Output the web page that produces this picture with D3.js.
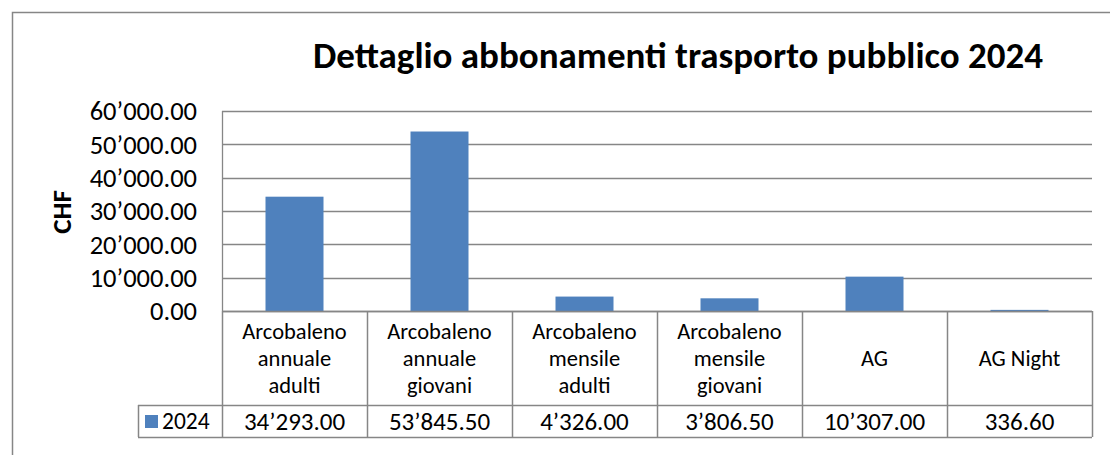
<!DOCTYPE html>
<html>
<head>
<meta charset="utf-8">
<script src="https://cdn.jsdelivr.net/npm/d3@7"></script>
<style>
  body { margin: 0; background: #fff; }
  svg text { font-family: Carlito, Lato, "Open Sans", sans-serif; fill: #000; }
</style>
</head>
<body>
<svg id="chart" width="1110" height="455"></svg>
<script>
// data
const categories = [
    ["Arcobaleno", "annuale", "adulti"],
    ["Arcobaleno", "annuale", "giovani"],
    ["Arcobaleno", "mensile", "adulti"],
    ["Arcobaleno", "mensile", "giovani"],
    ["AG"],
    ["AG Night"]
];
const values2024 = [34293.00, 53845.50, 4326.00, 3806.50, 10307.00, 336.60];
const seriesName = "2024";
const yTicks = [0, 10000, 20000, 30000, 40000, 50000, 60000];

const svg = d3.select("#chart");
const grid = "#868686";
const barColor = "#4F81BD";

// plot area
const plotL = 222, plotR = 1092, plotT = 111, plotB = 311;
const rowLabelBottom = 405, rowValueBottom = 437, legendLeft = 138;
const tableFont = 25;
const catFont = 22.5;

// outer chart frame (cropped on the right/bottom)
svg.append("path")
    .attr("d", "M12.5,456 V12.5 H1112")
    .attr("fill", "none")
    .attr("stroke", grid)
    .attr("stroke-width", 1.5);

const x = d3.scaleBand()
    .domain(d3.range(categories.length))
    .range([plotL, plotR])
    .paddingInner(0.6)
    .paddingOuter(0.3);
const xCol = d3.scaleBand()
    .domain(d3.range(categories.length))
    .range([plotL, plotR]);
const y = d3.scaleLinear().domain([0, 60000]).range([plotB, plotT]);

const fmt = v => d3.format(",.2f")(v).replace(/,/g, "\u2019");

// gridlines
svg.append("g").selectAll("line")
    .data(yTicks)
    .join("line")
    .attr("x1", plotL).attr("x2", plotR)
    .attr("y1", d => Math.round(y(d)) + 0.5)
    .attr("y2", d => Math.round(y(d)) + 0.5)
    .attr("stroke", grid)
    .attr("stroke-width", 1.3);

// left axis line
svg.append("line")
    .attr("x1", plotL + 0.5).attr("x2", plotL + 0.5)
    .attr("y1", plotT).attr("y2", plotB)
    .attr("stroke", grid).attr("stroke-width", 1.3);

// tick labels
svg.append("g").selectAll("text")
    .data(yTicks)
    .join("text")
    .attr("x", 197)
    .attr("y", d => y(d))
    .attr("dy", "0.35em")
    .attr("text-anchor", "end")
    .attr("font-size", 26.5)
    .text(d => fmt(d));

// bars
svg.append("g").selectAll("rect")
    .data(values2024)
    .join("rect")
    .attr("x", (d, i) => x(i))
    .attr("width", x.bandwidth())
    .attr("y", d => y(d))
    .attr("height", d => plotB - y(d))
    .attr("fill", barColor);

// data table
const tbl = svg.append("g")
    .attr("fill", "none")
    .attr("stroke", grid)
    .attr("stroke-width", 1.5);
tbl.append("line")
    .attr("x1", plotL).attr("x2", plotR)
    .attr("y1", plotB + 0.5).attr("y2", plotB + 0.5);
tbl.append("line")
    .attr("x1", legendLeft).attr("x2", plotR)
    .attr("y1", rowLabelBottom + 0.5).attr("y2", rowLabelBottom + 0.5);
tbl.append("line")
    .attr("x1", legendLeft).attr("x2", plotR)
    .attr("y1", rowValueBottom + 0.5).attr("y2", rowValueBottom + 0.5);
tbl.append("line")
    .attr("x1", legendLeft + 0.5).attr("x2", legendLeft + 0.5)
    .attr("y1", rowLabelBottom).attr("y2", rowValueBottom);
tbl.selectAll(".col")
    .data(d3.range(categories.length + 1))
    .join("line")
    .attr("class", "col")
    .attr("x1", i => Math.round(i < categories.length ? xCol(i) : plotR) + 0.5)
    .attr("x2", i => Math.round(i < categories.length ? xCol(i) : plotR) + 0.5)
    .attr("y1", plotB)
    .attr("y2", rowValueBottom);

// category labels
const lh = 27;
const catG = svg.append("g").selectAll("text")
    .data(categories)
    .join("text")
    .attr("text-anchor", "middle")
    .attr("font-size", catFont)
    .attr("x", (d, i) => xCol(i) + xCol.bandwidth() / 2)
    .attr("y", d => (plotB + rowLabelBottom) / 2 - (d.length - 1) * lh / 2);
catG.selectAll("tspan")
    .data(d => d)
    .join("tspan")
    .attr("x", function () { return this.parentNode.getAttribute("x"); })
    .attr("dy", (d, i) => i === 0 ? "0.35em" : lh)
    .text(d => d);

// value row
svg.append("g").selectAll("text")
    .data(values2024)
    .join("text")
    .attr("text-anchor", "middle")
    .attr("font-size", tableFont)
    .attr("x", (d, i) => xCol(i) + xCol.bandwidth() / 2)
    .attr("y", (rowLabelBottom + rowValueBottom) / 2)
    .attr("dy", "0.35em")
    .text(d => fmt(d));

// legend key in table
svg.append("rect")
    .attr("x", 145).attr("y", 415)
    .attr("width", 13).attr("height", 13)
    .attr("fill", barColor);
svg.append("text")
    .attr("x", 162)
    .attr("y", (rowLabelBottom + rowValueBottom) / 2)
    .attr("dy", "0.35em")
    .attr("font-size", 23.5)
    .text(seriesName);

// y axis title
svg.append("text")
    .attr("transform", "translate(62,212) rotate(-90)")
    .attr("text-anchor", "middle")
    .attr("dy", "0.35em")
    .attr("font-size", 27)
    .attr("font-weight", "bold")
    .text("CHF");

// title
svg.append("text")
    .attr("x", 678)
    .attr("y", 55)
    .attr("dy", "0.35em")
    .attr("text-anchor", "middle")
    .attr("font-size", 37)
    .attr("font-weight", "bold")
    .text("Dettaglio abbonamenti trasporto pubblico 2024");
</script>
</body>
</html>
